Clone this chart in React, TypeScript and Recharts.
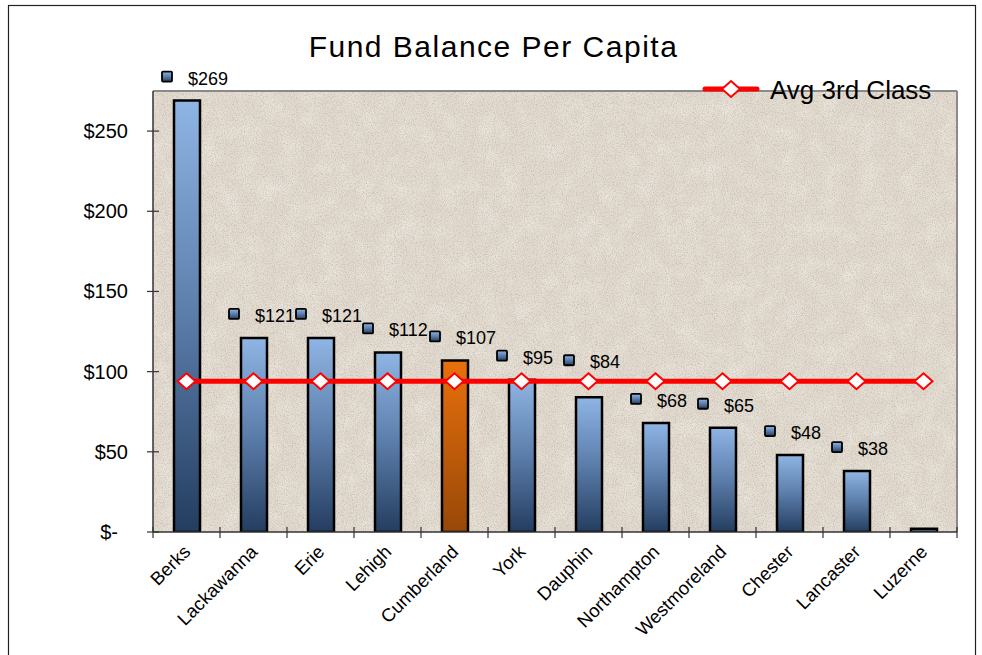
import React from 'react';
import {
  ComposedChart,
  Bar,
  Line,
  XAxis,
  YAxis,
  CartesianGrid,
  Cell,
  LabelList,
} from 'recharts';

const categories = [
  'Berks',
  'Lackawanna',
  'Erie',
  'Lehigh',
  'Cumberland',
  'York',
  'Dauphin',
  'Northampton',
  'Westmoreland',
  'Chester',
  'Lancaster',
  'Luzerne',
];
const fundBalance = [269, 121, 121, 112, 107, 95, 84, 68, 65, 48, 38, 2];
const avg3rdClass = [94, 94, 94, 94, 94, 94, 94, 94, 94, 94, 94, 94];
const highlighted = 'Cumberland';
const yTicks = [0, 50, 100, 150, 200, 250];
const titleText = 'Fund Balance Per Capita';
const legendText = 'Avg 3rd Class';

const data = categories.map((name, i) => ({
  name,
  value: fundBalance[i],
  avg: avg3rdClass[i],
}));

const W = 982;
const H = 655;
const MARGIN = { top: 91, right: 25, bottom: 0, left: 0 };
const Y_AXIS_W = 153;
const X_AXIS_H = 123;
const PLOT_W = W - Y_AXIS_W - MARGIN.right;
const BAND = PLOT_W / categories.length;
const FONT = '"Liberation Sans", Arial, Helvetica, sans-serif';
const AXIS_COLOR = '#333';

const fmt = (v: number) => (v === 0 ? '$-' : `$${v}`);

const YTick = (props: any) => {
  const { x, y, payload } = props;
  const v = payload.value;
  return (
    <g>
      <line x1={x - 6} x2={x + 6} y1={y} y2={y} stroke={AXIS_COLOR} strokeWidth={1.2} />
      <text
        x={v === 0 ? x - 35 : x - 25}
        y={y}
        textAnchor="end"
        dominantBaseline="central"
        fontSize={20}
        fontFamily={FONT}
        fill="#000"
      >
        {fmt(v)}
      </text>
    </g>
  );
};

const XTick = (props: any) => {
  const { x, y, payload, index } = props;
  const left = x - BAND / 2;
  const right = x + BAND / 2;
  const ax = x + 5;
  const ay = y + 21;
  return (
    <g>
      <line x1={left} x2={left} y1={y - 5} y2={y + 6} stroke={AXIS_COLOR} strokeWidth={1.2} />
      {index === categories.length - 1 && (
        <line x1={right} x2={right} y1={y - 5} y2={y + 6} stroke={AXIS_COLOR} strokeWidth={1.2} />
      )}
      <text
        x={ax}
        y={ay}
        textAnchor="end"
        fontSize={18.5}
        fontFamily={FONT}
        fill="#000"
        transform={`rotate(-45 ${ax} ${ay})`}
      >
        {payload.value}
      </text>
    </g>
  );
};

const DataLabel = (props: any) => {
  const { x, y, width, height, value, index } = props;
  if (value == null || value < 5) return null;
  const cx = x + width / 2;
  // keep the label clear of the average line (derived from the bar's own scale)
  const base = y + height;
  const pxPerUnit = height / value;
  const avgY = base - avg3rdClass[index] * pxPerUnit;
  let ly = y - 22;
  if (ly + 9 > avgY - 10 && ly - 9 < avgY + 10) ly = avgY - 19;
  return (
    <g>
      <rect
        x={cx - 25}
        y={ly - 7}
        width={10}
        height={10}
        fill="url(#gradBlue)"
        stroke="#000"
        strokeWidth={1.8}
        rx={1}
      />
      <text
        x={cx + 1}
        y={ly}
        dominantBaseline="central"
        fontSize={18}
        fontFamily={FONT}
        fill="#000"
      >
        {`$${value}`}
      </text>
    </g>
  );
};

const Diamond = (props: any) => {
  const { cx, cy } = props;
  if (cx == null || cy == null) return null;
  return (
    <polygon
      points={`${cx},${cy - 8} ${cx + 9},${cy} ${cx},${cy + 8} ${cx - 9},${cy}`}
      fill="#fff"
      stroke="#ff0000"
      strokeWidth={2}
    />
  );
};

export default function App() {
  return (
    <div
      style={{
        position: 'absolute',
        left: 0,
        top: 0,
        width: W,
        height: H,
        background: '#fff',
        overflow: 'hidden',
      }}
    >
      <ComposedChart width={W} height={H} data={data} margin={MARGIN}>
        <defs>
          <linearGradient id="gradBlue" x1="0" y1="0" x2="0" y2="1">
            <stop offset="0%" stopColor="#8FB5E4" />
            <stop offset="50%" stopColor="#5B7DAA" />
            <stop offset="100%" stopColor="#243D60" />
          </linearGradient>
          <linearGradient id="gradOrange" x1="0" y1="0" x2="0" y2="1">
            <stop offset="0%" stopColor="#E8700C" />
            <stop offset="100%" stopColor="#984808" />
          </linearGradient>
          <filter id="grain" x="0" y="0" width="100%" height="100%">
            <feTurbulence type="fractalNoise" baseFrequency="0.9" numOctaves="3" seed="4" result="n" />
            <feColorMatrix
              in="n"
              type="matrix"
              values="0 0 0 0 0.45  0 0 0 0 0.41  0 0 0 0 0.36  1.4 0 0 0 -0.6"
            />
          </filter>
          <filter id="mottle" x="0" y="0" width="100%" height="100%">
            <feTurbulence type="fractalNoise" baseFrequency="0.05" numOctaves="2" seed="9" result="m" />
            <feColorMatrix
              in="m"
              type="matrix"
              values="0 0 0 0 1  0 0 0 0 1  0 0 0 0 0.98  0.6 0 0 0 -0.25"
            />
          </filter>
          <pattern id="stone" patternUnits="userSpaceOnUse" x="0" y="0" width="982" height="655">
            <rect width="982" height="655" fill="#E3DBCF" />
            <rect width="982" height="655" filter="url(#mottle)" />
            <rect width="982" height="655" filter="url(#grain)" />
          </pattern>
        </defs>
        <CartesianGrid
          fill="url(#stone)"
          fillOpacity={1}
          stroke="#8a8a8a"
          strokeWidth={2}
          horizontalCoordinatesGenerator={(p: any) => [p.offset.top]}
          verticalCoordinatesGenerator={(p: any) => [p.offset.left + p.offset.width]}
        />
        <XAxis
          dataKey="name"
          height={X_AXIS_H}
          interval={0}
          tickLine={false}
          tickSize={0}
          tickMargin={0}
          axisLine={{ stroke: AXIS_COLOR, strokeWidth: 1.5 }}
          tick={<XTick />}
        />
        <YAxis
          width={Y_AXIS_W}
          domain={[0, 275]}
          ticks={yTicks}
          allowDataOverflow
          tickLine={false}
          tickSize={0}
          tickMargin={0}
          axisLine={{ stroke: AXIS_COLOR, strokeWidth: 1.5 }}
          tick={<YTick />}
        />
        <Bar
          dataKey="value"
          barSize={26}
          stroke="#000"
          strokeWidth={2.5}
          isAnimationActive={false}
          legendType="none"
        >
          {data.map((d) => (
            <Cell
              key={d.name}
              fill={d.name === highlighted ? 'url(#gradOrange)' : 'url(#gradBlue)'}
            />
          ))}
          <LabelList dataKey="value" content={<DataLabel />} />
        </Bar>
        <Line
          dataKey="avg"
          name={legendText}
          stroke="#ff0000"
          strokeWidth={5}
          dot={<Diamond />}
          activeDot={false}
          isAnimationActive={false}
        />
      </ComposedChart>
      <svg
        width={W}
        height={H}
        style={{ position: 'absolute', left: 0, top: 0, pointerEvents: 'none' }}
      >
        <rect x={8.5} y={5.5} width={967} height={700} fill="none" stroke="#222" strokeWidth={1.2} />
        <text
          x={493.5}
          y={57}
          textAnchor="middle"
          fontSize={30}
          fontFamily={FONT}
          letterSpacing={1.5}
          fill="#000"
        >
          {titleText}
        </text>
        <g>
          <line x1={705} x2={757} y1={89} y2={89} stroke="#ff0000" strokeWidth={5} strokeLinecap="round" />
          <polygon points="731,81 740,89 731,97 722,89" fill="#fff" stroke="#ff0000" strokeWidth={2} />
          <text x={770} y={98.5} fontSize={26} fontFamily={FONT} fill="#000">
            {legendText}
          </text>
        </g>
      </svg>
    </div>
  );
}
